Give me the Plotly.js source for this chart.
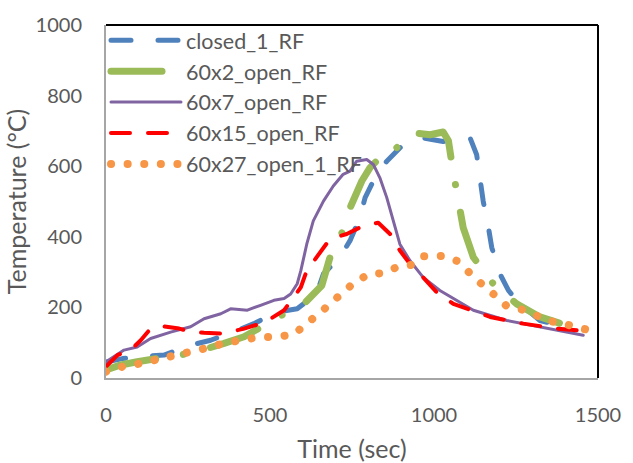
<!DOCTYPE html>
<html>
<head>
<meta charset="utf-8">
<script src="https://cdn.plot.ly/plotly-3.0.1.min.js"></script>
<style>
html, body { margin: 0; padding: 0; background: #fff; }
#chart { width: 633px; height: 463px; }
.scatterlayer .js-line, .legendlines path { stroke-linecap: round; stroke-linejoin: round; }
</style>
</head>
<body>
<div id="chart"></div>
<script>
// closed_1_RF
const closedX = [0, 50, 126, 177, 258, 319, 400, 451, 522, 583, 642, 663, 713, 744, 774, 790, 825, 856, 906, 967, 1028, 1070, 1110, 1130, 1140, 1150, 1166, 1176, 1201, 1227, 1262, 1323, 1400];
const closedY = [45, 55, 62, 65, 93, 107, 135, 154, 187, 196, 239, 295, 342, 389, 454, 511, 577, 614, 661, 680, 670, 675, 680, 633, 558, 501, 426, 370, 295, 248, 210, 163, 145];
// 60x2_open_RF
const open2X = [0, 45, 95, 167, 263, 360, 421, 482, 533, 594, 658, 683, 713, 744, 780, 805, 835, 850, 886, 937, 988, 1028, 1044, 1059, 1074, 1089, 1120, 1179, 1252, 1323, 1405];
const open2Y = [23, 37, 46, 55, 71, 98, 117, 149, 177, 201, 262, 342, 394, 482, 558, 596, 624, 647, 652, 695, 689, 697, 672, 581, 497, 426, 342, 269, 210, 173, 149];
// 60x7_open_RF
const open7X = [0, 30, 55, 95, 136, 197, 258, 299, 350, 380, 431, 471, 512, 543, 563, 583, 594, 612, 632, 663, 693, 723, 744, 764, 795, 815, 835, 856, 876, 896, 927, 967, 1018, 1089, 1120, 1222, 1323, 1455];
const open7Y = [46, 65, 79, 88, 112, 130, 145, 168, 182, 196, 192, 206, 220, 225, 238, 267, 304, 379, 445, 501, 544, 577, 586, 614, 619, 605, 567, 511, 445, 379, 332, 285, 248, 210, 192, 163, 145, 121];
// 60x15_open_RF
const open15X = [0, 35, 75, 106, 136, 177, 223, 258, 299, 350, 380, 421, 471, 502, 543, 573, 594, 612, 642, 683, 734, 784, 830, 866, 896, 927, 967, 1008, 1059, 1171, 1272, 1374, 1435];
const open15Y = [32, 65, 79, 107, 140, 146, 140, 131, 128, 126, 131, 140, 154, 168, 192, 229, 257, 304, 342, 394, 408, 431, 440, 408, 361, 323, 285, 243, 210, 173, 154, 140, 135];
// 60x27_open_1_RF
const open27X = [0, 50, 104, 155, 207, 260, 311, 362, 413, 466, 519, 573, 612, 652, 688, 724, 759, 802, 848, 891, 937, 967, 993, 1028, 1069, 1108, 1142, 1181, 1219, 1262, 1308, 1354, 1402, 1453, 1500];
const open27Y = [18, 32, 41, 51, 63, 76, 86, 99, 110, 116, 116, 124, 154, 182, 213, 245, 271, 295, 297, 316, 321, 345, 346, 346, 332, 302, 269, 238, 206, 196, 177, 161, 152, 142, 129];

const seriesNames = ['closed_1_RF', '60x2_open_RF', '60x7_open_RF', '60x15_open_RF', '60x27_open_1_RF'];
const xTickVals = [0, 500, 1000, 1500];
const yTickVals = [0, 200, 400, 600, 800, 1000];

const FONT = 'Lato, "Open Sans", sans-serif';
const TXT = '#595959';

const traces = [
  {x: closedX, y: closedY, name: seriesNames[0], mode: 'lines',
   line: {color: '#4F81BD', width: 5, dash: '20px,27px'}},
  {x: open2X, y: open2Y, name: seriesNames[1], mode: 'lines',
   line: {color: '#9BBB59', width: 7, dash: '51px,28px,0.1px,28px'}},
  {x: open7X, y: open7Y, name: seriesNames[2], mode: 'lines',
   line: {color: '#8064A2', width: 3}},
  {x: open15X, y: open15Y, name: seriesNames[3], mode: 'lines',
   line: {color: '#FF0000', width: 4, dash: '19px,18px'}},
  {x: open27X, y: open27Y, name: seriesNames[4], mode: 'lines',
   line: {color: '#F79646', width: 8, dash: '0.1px,16.5px'}}
];

const layout = {
  width: 633, height: 463,
  margin: {l: 106, r: 35, t: 23, b: 85},
  paper_bgcolor: '#fff', plot_bgcolor: '#fff',
  font: {family: FONT, size: 20, color: TXT},
  showlegend: true,
  legend: {x: 0, y: 1.015, xanchor: 'left', yanchor: 'top', bgcolor: 'rgba(0,0,0,0)',
           font: {family: FONT, size: 21.5, color: TXT}, itemwidth: 70},
  xaxis: {range: [0, 1500], tickvals: xTickVals, ticks: '', showgrid: false, zeroline: false,
          showline: true, linecolor: '#A6A6A6', linewidth: 2, ticklabelstandoff: 18,
          tickfont: {family: FONT, size: 20, color: TXT},
          title: {text: 'Time (sec)', font: {family: FONT, size: 25, color: TXT}}},
  yaxis: {range: [0, 1000], tickvals: yTickVals, ticks: '', showgrid: false, zeroline: false,
          showline: true, linecolor: '#A6A6A6', linewidth: 2, ticklabelstandoff: 18,
          automargin: true,
          tickfont: {family: FONT, size: 20, color: TXT},
          title: {text: 'Temperature (°C)', font: {family: FONT, size: 25, color: TXT}, standoff: 2}},
  shapes: [
    {type: 'line', xref: 'paper', yref: 'paper', x0: 0, x1: 1, y0: 1, y1: 1, line: {color: '#000', width: 2}},
    {type: 'line', xref: 'paper', yref: 'paper', x0: 1, x1: 1, y0: 0, y1: 1, line: {color: '#000', width: 2}}
  ]
};

Plotly.newPlot('chart', traces, layout, {displayModeBar: false, staticPlot: true});
</script>
</body>
</html>
